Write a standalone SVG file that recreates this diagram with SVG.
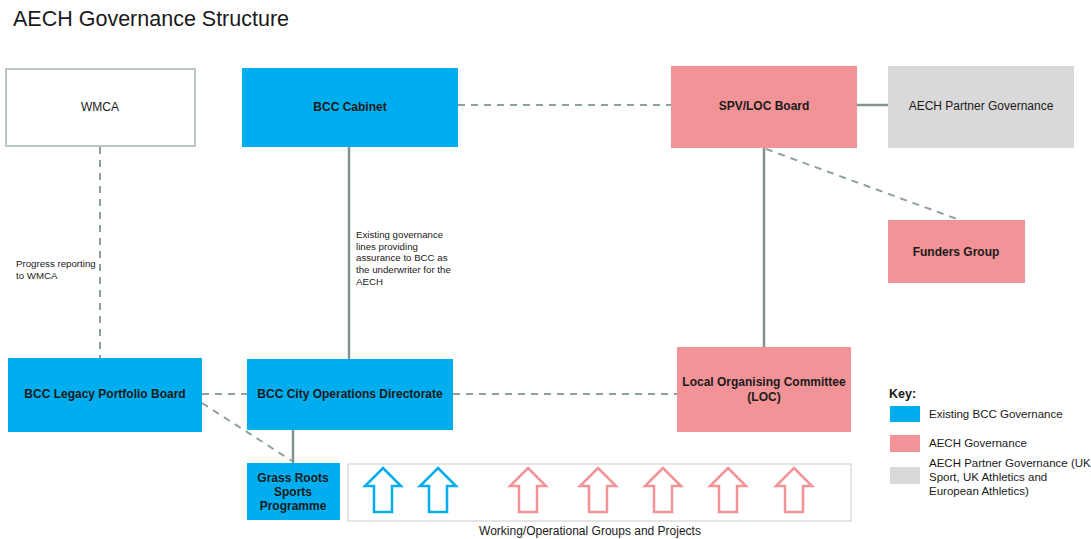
<svg xmlns="http://www.w3.org/2000/svg" width="1091" height="539" viewBox="0 0 1091 539">
<style>
text{font-family:"Liberation Sans",Arial,sans-serif;fill:#1a1a1a}
.b{font-weight:bold;font-size:12px;text-anchor:middle}
.r{font-size:12px;text-anchor:middle}
.s{font-size:9.7px}
.k{font-size:11.5px}
.blue{fill:#00adee}
.pink{fill:#f29397}
.grey{fill:#d9d9d9}
.dash{stroke:#8ea19e;stroke-width:2;stroke-dasharray:7,6;fill:none}
.solid{stroke:#7f9390;stroke-width:2.5;fill:none}
.arrB{fill:#fff;stroke:#00aeef;stroke-width:2.5}
.arrP{fill:#fff;stroke:#f29397;stroke-width:2.5}
</style>
<defs>
<path id="arr" d="M0,-22 L18,-4 L9,-4 L9,22 L-9,22 L-9,-4 L-18,-4 Z"/>
</defs>
<rect width="1091" height="539" fill="#fff"/>
<text x="13" y="26" style="font-size:21.5px">AECH Governance Structure</text>

<g id="connectors">
<line class="dash" x1="100" y1="147" x2="100" y2="358"/>
<line class="solid" x1="349" y1="147" x2="349" y2="359"/>
<line class="dash" x1="458" y1="105" x2="671" y2="105"/>
<line class="solid" x1="857" y1="105" x2="888" y2="105"/>
<line class="solid" x1="764" y1="148" x2="764" y2="347"/>
<line class="dash" x1="766" y1="149" x2="957" y2="219"/>
<line class="dash" x1="202" y1="394" x2="247" y2="394"/>
<line class="dash" x1="453" y1="394" x2="677" y2="394"/>
<line class="dash" x1="202" y1="403" x2="292" y2="461"/>
<line class="solid" x1="293" y1="430" x2="293" y2="463"/>
<text class="s" x="16" y="267">Progress reporting</text>
<text class="s" x="16" y="279">to WMCA</text>
<text class="s" x="356" y="238">Existing governance</text>
<text class="s" x="356" y="250">lines providing</text>
<text class="s" x="356" y="261">assurance to BCC as</text>
<text class="s" x="356" y="273">the underwriter for the</text>
<text class="s" x="356" y="285">AECH</text>
</g>

<g id="wmca">
<rect x="6" y="69" width="189" height="77" fill="#fff" stroke="#bcc6c5" stroke-width="2"/>
<text class="r" x="100" y="111">WMCA</text>
</g>
<g id="bcc-cabinet">
<rect class="blue" x="242" y="68" width="216" height="79"/>
<text class="b" x="350" y="111">BCC Cabinet</text>
</g>
<g id="spv-loc-board">
<rect class="pink" x="671" y="66" width="186" height="82"/>
<text class="b" x="764" y="110">SPV/LOC Board</text>
</g>
<g id="aech-partner">
<rect class="grey" x="888" y="66" width="186" height="82"/>
<text class="r" x="981" y="110">AECH Partner Governance</text>
</g>
<g id="funders-group">
<rect class="pink" x="888" y="220" width="137" height="63"/>
<text class="b" x="956" y="256">Funders Group</text>
</g>
<g id="legacy-board">
<rect class="blue" x="8" y="358" width="194" height="74"/>
<text class="b" x="105" y="398">BCC Legacy Portfolio Board</text>
</g>
<g id="city-ops">
<rect class="blue" x="247" y="359" width="206" height="71"/>
<text class="b" x="350" y="398">BCC City Operations Directorate</text>
</g>
<g id="loc">
<rect class="pink" x="677" y="347" width="174" height="85"/>
<text class="b" x="764" y="386">Local Organising Committee</text>
<text class="b" x="764" y="401">(LOC)</text>
</g>
<g id="grass-roots">
<rect class="blue" x="247" y="463" width="93" height="57"/>
<text class="b" x="293" y="482">Grass Roots</text>
<text class="b" x="293" y="496">Sports</text>
<text class="b" x="293" y="510">Programme</text>
</g>
<g id="working-groups">
<rect x="348" y="464" width="503" height="57" fill="#fff" stroke="#dcdcdc" stroke-width="1.5"/>
<use href="#arr" class="arrB" x="383" y="490"/>
<use href="#arr" class="arrB" x="438" y="490"/>
<use href="#arr" class="arrP" x="528" y="490"/>
<use href="#arr" class="arrP" x="598" y="490"/>
<use href="#arr" class="arrP" x="663" y="490"/>
<use href="#arr" class="arrP" x="728" y="490"/>
<use href="#arr" class="arrP" x="794" y="490"/>
<text class="r" x="590" y="535">Working/Operational Groups and Projects</text>
</g>
<g id="key">
<text x="889" y="398" style="font-size:12.5px;font-weight:bold">Key:</text>
<rect class="blue" x="890" y="406" width="30" height="16"/>
<rect class="pink" x="890" y="435" width="30" height="17"/>
<rect class="grey" x="890" y="467" width="30" height="17"/>
<text class="k" x="929" y="418">Existing BCC Governance</text>
<text class="k" x="929" y="447">AECH Governance</text>
<text class="k" x="929" y="467">AECH Partner Governance (UK</text>
<text class="k" x="929" y="481">Sport, UK Athletics and</text>
<text class="k" x="929" y="495">European Athletics)</text>
</g>
</svg>
